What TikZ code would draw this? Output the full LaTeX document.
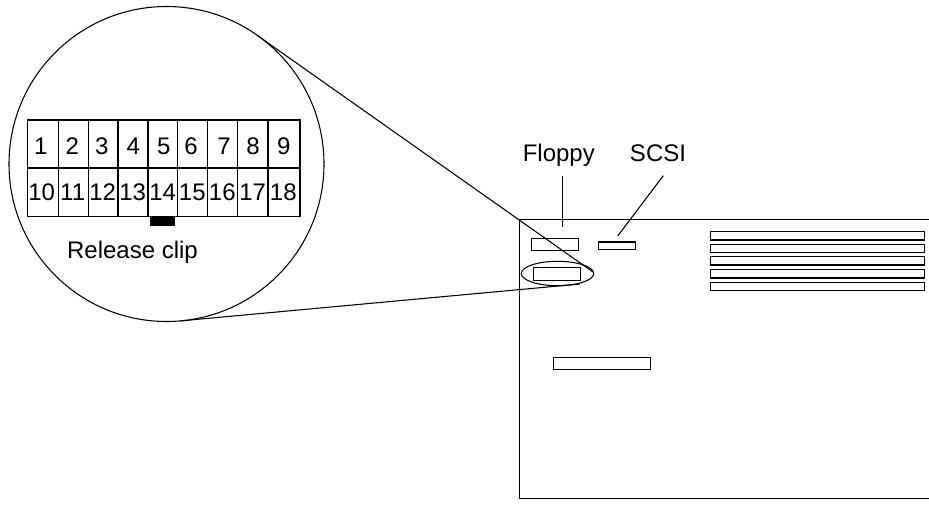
\documentclass[tikz,border=0pt]{standalone}
\usepackage{fontspec}
\setmainfont{Liberation Sans}
\tikzset{every picture/.style={line width=0.8pt}}
\tikzset{pinlabel/.style={anchor=base,inner sep=0.75pt,font=\fontsize{18}{21}\selectfont}}

\begin{document}
\begin{tikzpicture}[x=0.75pt,y=0.75pt,yscale=-1,xscale=1]
\useasboundingbox (0,0) rectangle (929,504);
% magnifier
\draw   (166.5,164) circle [radius=157.5] ;
\draw   (27.7,120) -- (300,120) -- (300,216.3) -- (27.7,216.3) -- cycle ;
\draw    (27.7,168) -- (300,168) ;
\draw    (58.7,120) -- (58.7,216.3) ;
\draw    (88.3,120) -- (88.3,216.3) ;
\draw    (118,120) -- (118,216.3) ;
\draw    (148,120) -- (148,216.3) ;
\draw    (177.7,120) -- (177.7,216.3) ;
\draw    (207.3,120) -- (207.3,216.3) ;
\draw    (237.7,120) -- (237.7,216.3) ;
\draw    (268,120) -- (268,216.3) ;
\fill   (150,216.3) -- (175.3,216.3) -- (175.3,226) -- (150,226) -- cycle ;
\draw (40.7,154) node [pinlabel] (pin1) {1};
\draw (72.3,154) node [pinlabel] (pin2) {2};
\draw (101.7,154) node [pinlabel] (pin3) {3};
\draw (133.3,154) node [pinlabel] (pin4) {4};
\draw (163.7,154) node [pinlabel] (pin5) {5};
\draw (191,154) node [pinlabel] (pin6) {6};
\draw (224,154) node [pinlabel] (pin7) {7};
\draw (253,154) node [pinlabel] (pin8) {8};
\draw (283.7,154) node [pinlabel] (pin9) {9};
\draw (41.7,200) node [pinlabel] (pin10) {10};
\draw (72.7,200) node [pinlabel] (pin11) {11};
\draw (102.7,200) node [pinlabel] (pin12) {12};
\draw (132.7,200) node [pinlabel] (pin13) {13};
\draw (162.7,200) node [pinlabel] (pin14) {14};
\draw (192.3,200) node [pinlabel] (pin15) {15};
\draw (222.3,200) node [pinlabel] (pin16) {16};
\draw (252.7,200) node [pinlabel] (pin17) {17};
\draw (283.3,200) node [pinlabel] (pin18) {18};
\draw (132.5,258) node [pinlabel] (clipname) {Release clip};
% board outline, open on the right
\draw    (929,219.3) -- (519.3,219.3) -- (519.3,498.5) -- (929,498.5) ;
\draw   (531.7,238.3) -- (578.3,238.3) -- (578.3,250.3) -- (531.7,250.3) -- cycle ;
\draw   (598.3,242) -- (635.3,242) -- (635.3,249.3) -- (598.3,249.3) -- cycle ;
\draw   (533.3,267.7) -- (580.3,267.7) -- (580.3,280.3) -- (533.3,280.3) -- cycle ;
\draw   (553.3,357.3) -- (650.3,357.3) -- (650.3,369.7) -- (553.3,369.7) -- cycle ;
\draw   (710.7,231.7) -- (924.3,231.7) -- (924.3,240) -- (710.7,240) -- cycle ;
\draw   (710.7,244.3) -- (924.3,244.3) -- (924.3,252.7) -- (710.7,252.7) -- cycle ;
\draw   (710.7,256.7) -- (924.3,256.7) -- (924.3,265) -- (710.7,265) -- cycle ;
\draw   (710.7,269.7) -- (924.3,269.7) -- (924.3,278) -- (710.7,278) -- cycle ;
\draw   (710.7,282.3) -- (924.3,282.3) -- (924.3,290.7) -- (710.7,290.7) -- cycle ;
\draw   (557.5,273.5) ellipse [x radius=36.2,y radius=12.2] ;
% leaders
\draw (558.8,161.7) node [pinlabel] (floppyname) {Floppy};
\draw (658,161.7) node [pinlabel] (scsiname) {SCSI};
\coordinate (floppytop) at (562.7,176);
\coordinate (floppyend) at (562.7,226.7);
\coordinate (scsitop) at (663.3,175.7);
\coordinate (scsiend) at (617.7,236);
\coordinate (circleupper) at (257,35.2);
\coordinate (ovalupper) at (593,272);
\coordinate (circlelower) at (180.5,320.9);
\coordinate (ovallower) at (580,284);
\draw    (floppytop) -- (floppyend) ;
\draw    (scsitop) -- (scsiend) ;
\draw    (circleupper) -- (ovalupper) ;
\draw    (circlelower) -- (ovallower) ;
\end{tikzpicture}
\end{document}
